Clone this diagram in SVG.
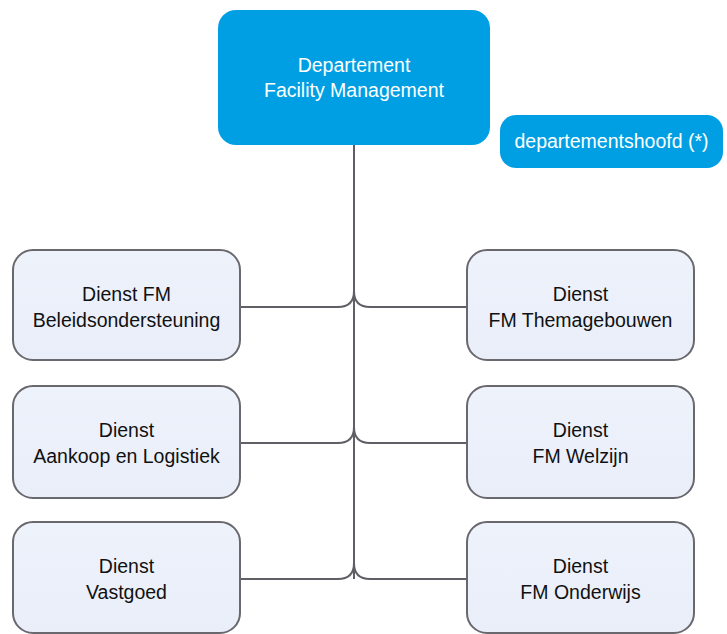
<svg xmlns="http://www.w3.org/2000/svg" width="727" height="634" viewBox="0 0 727 634">
<defs>
<linearGradient id="boxfill" x1="0" y1="0" x2="0" y2="1">
<stop offset="0" stop-color="#eef2fb"/>
<stop offset="1" stop-color="#e9eef9"/>
</linearGradient>
</defs>
<style>
.blue{fill:#009fe3;}
.box{fill:url(#boxfill);stroke:#68686e;stroke-width:2;}
.wt{font-family:"Liberation Sans",Arial,sans-serif;font-size:19.5px;fill:#ffffff;text-anchor:middle;}
.dt{font-family:"Liberation Sans",Arial,sans-serif;font-size:19.5px;fill:#111111;text-anchor:middle;}
.conn{fill:none;stroke:#5f5f65;stroke-width:2;}
</style>
<rect width="727" height="634" fill="#ffffff"/>
<g id="connectors">
<path class="conn" d="M354 145 V579"/>
<path class="conn" d="M240 307 H338 Q354 307 354 291 Q354 307 370 307 H467"/>
<path class="conn" d="M240 443 H338 Q354 443 354 427 Q354 443 370 443 H467"/>
<path class="conn" d="M240 579 H338 Q354 579 354 563 Q354 579 370 579 H467"/>
</g>
<g id="dept">
<rect class="blue" x="218" y="10" width="272" height="135" rx="18"/>
<text class="wt" x="354" y="72">Departement</text>
<text class="wt" x="354" y="97">Facility Management</text>
</g>
<g id="hoofd">
<rect class="blue" x="500" y="115" width="223" height="53" rx="16"/>
<text class="wt" x="611.5" y="148">departementshoofd (*)</text>
</g>
<g id="beleid">
<rect class="box" x="13" y="250" width="227" height="110" rx="20"/>
<text class="dt" x="126.5" y="301">Dienst FM</text>
<text class="dt" x="126.5" y="327">Beleidsondersteuning</text>
</g>
<g id="aankoop">
<rect class="box" x="13" y="386" width="227" height="112" rx="20"/>
<text class="dt" x="126.5" y="437">Dienst</text>
<text class="dt" x="126.5" y="463">Aankoop en Logistiek</text>
</g>
<g id="vastgoed">
<rect class="box" x="13" y="522" width="227" height="111" rx="20"/>
<text class="dt" x="126.5" y="573">Dienst</text>
<text class="dt" x="126.5" y="599">Vastgoed</text>
</g>
<g id="thema">
<rect class="box" x="467" y="250" width="227" height="110" rx="20"/>
<text class="dt" x="580.5" y="301">Dienst</text>
<text class="dt" x="580.5" y="327">FM Themagebouwen</text>
</g>
<g id="welzijn">
<rect class="box" x="467" y="386" width="227" height="112" rx="20"/>
<text class="dt" x="580.5" y="437">Dienst</text>
<text class="dt" x="580.5" y="463">FM Welzijn</text>
</g>
<g id="onderwijs">
<rect class="box" x="467" y="522" width="227" height="111" rx="20"/>
<text class="dt" x="580.5" y="573">Dienst</text>
<text class="dt" x="580.5" y="599">FM Onderwijs</text>
</g>
</svg>
